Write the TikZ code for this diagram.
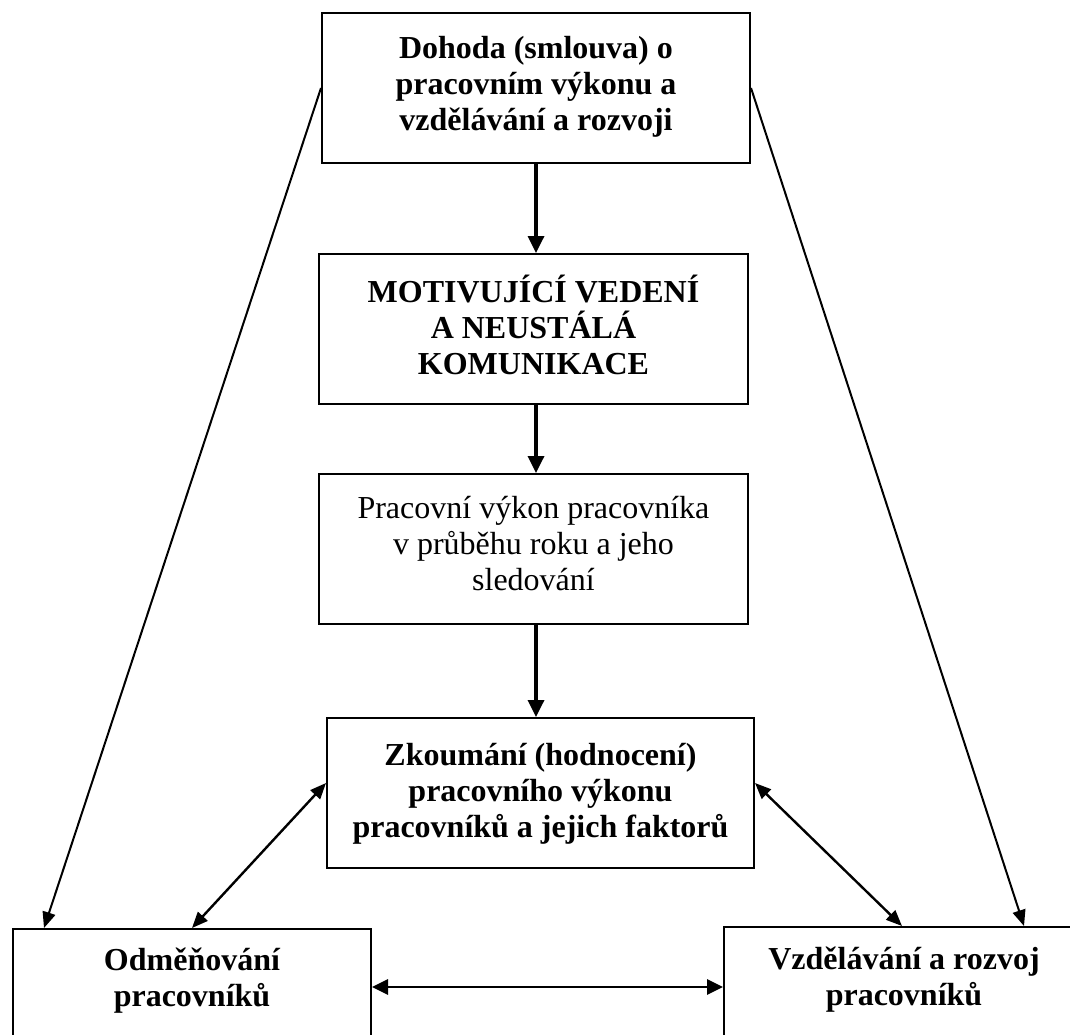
\documentclass[tikz,border=0pt]{standalone}
\usepackage{fontspec}
\setmainfont{Liberation Serif}
\usetikzlibrary{arrows.meta,calc}
% centred lines in a fixed-size box; #3 places the first baseline below the top
\newcommand\boxlines[4]{\parbox[c][#1][t]{#2}{\centering\rule{0pt}{#3}#4}}
\begin{document}
\begin{tikzpicture}[x=1pt,y=-1pt,
  box/.style={draw, line width=2pt, inner sep=0pt, anchor=north west,
              font=\fontsize{32}{36}\selectfont\bfseries},
  lighttext/.style={font=\fontsize{32}{36}\selectfont},
  flow/.style={line width=3.4pt, -{Triangle[length=17pt,width=16pt]}},
  link/.style={line width=2pt, -{Triangle[length=16pt,width=13pt]}},
  both/.style={line width=2.4pt,
               {Triangle[length=16pt,width=13pt]}-{Triangle[length=16pt,width=13pt]}},
  wide/.style={line width=2.8pt,
               {Triangle[length=16pt,width=15pt]}-{Triangle[length=16pt,width=15pt]}}]
\clip (0,0) rectangle (1070,1034);
\fill[white] (0,0) rectangle (1070,1034);

% main column
\node[box] (b1) at (321,12)
  {\boxlines{150pt}{428pt}{45pt}{Dohoda (smlouva) o\\pracovním výkonu a\\vzdělávání a rozvoji}};
\node[box] (b2) at (318,253)
  {\boxlines{150pt}{429pt}{48pt}{MOTIVUJÍCÍ VEDENÍ\\A NEUSTÁLÁ\\KOMUNIKACE}};
\node[box, lighttext] (b3) at (318,473)
  {\boxlines{150pt}{429pt}{44pt}{Pracovní výkon pracovníka\\v průběhu roku a jeho\\sledování}};
\node[box] (b4) at (326,717)
  {\boxlines{150pt}{427pt}{47pt}{Zkoumání (hodnocení)\\pracovního výkonu\\pracovníků a jejich faktorů}};

% bottom pair
\node[box] (b5) at (12,928)
  {\boxlines{150pt}{358pt}{41pt}{Odměňování\\pracovníků}};
\node[box] (b6) at (723,926)
  {\boxlines{150pt}{360pt}{42pt}{Vzdělávání a rozvoj\\pracovníků}};

% connector end points
\coordinate (t5a) at ($(b5.north west)+(32,0)$);
\coordinate (t6b) at ($(b6.north west)+(301,0)$);
\coordinate (s4a) at ($(b4.west)+(0,-10)$);
\coordinate (s4b) at ($(b4.east)+(0,-10)$);
\coordinate (h5) at ($(b5.east)+(0,-17)$);

% vertical flow
\draw[flow] (b1.south) -- (b2.north -| b1.south);
\draw[flow] (b2.south -| b1.south) -- (b3.north -| b1.south);
\draw[flow] (b3.south -| b1.south) -- (b4.north -| b1.south);

% long links from the agreement
\draw[link] (b1.west) -- (t5a);
\draw[link] (b1.east) -- (t6b);

% two-way links
\draw[both] (s4a) -- (b5.north);
\draw[both] (s4b) -- ($(b6.north)+(-2,0)$);
\draw[wide] (h5) -- (h5 -| b6.west);
\end{tikzpicture}
\end{document}
